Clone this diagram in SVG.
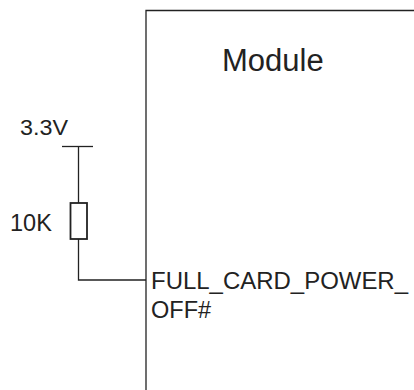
<svg xmlns="http://www.w3.org/2000/svg" width="414" height="390" viewBox="0 0 414 390">
<style>
.ln{stroke:#222;stroke-width:1.3;fill:none}
.t{font-family:"Liberation Sans",Arial,sans-serif;fill:#222}
</style>
<rect width="414" height="390" fill="#fff"/>
<g id="module">
<path class="ln" d="M146 392 V10.5 H416"/>
<text class="t" x="222" y="71" font-size="31">Module</text>
<text class="t" x="151" y="288.5" font-size="23.5" textLength="257" lengthAdjust="spacingAndGlyphs">FULL_CARD_POWER_</text>
<text class="t" x="151" y="317.5" font-size="23.5">OFF#</text>
</g>
<g id="vcc">
<line class="ln" x1="62" y1="146.5" x2="93" y2="146.5"/>
<text class="t" x="20" y="134.5" font-size="22" textLength="48" lengthAdjust="spacingAndGlyphs">3.3V</text>
</g>
<g id="resistor">
<rect x="70.5" y="203" width="16.5" height="36" fill="none" stroke="#222" stroke-width="1.8"/>
<text class="t" x="10" y="231" font-size="23.5">10K</text>
</g>
<g id="connectors">
<path class="ln" d="M78.5 146.5 V203"/>
<path class="ln" d="M78.5 239 V280 H146"/>
</g>
</svg>
